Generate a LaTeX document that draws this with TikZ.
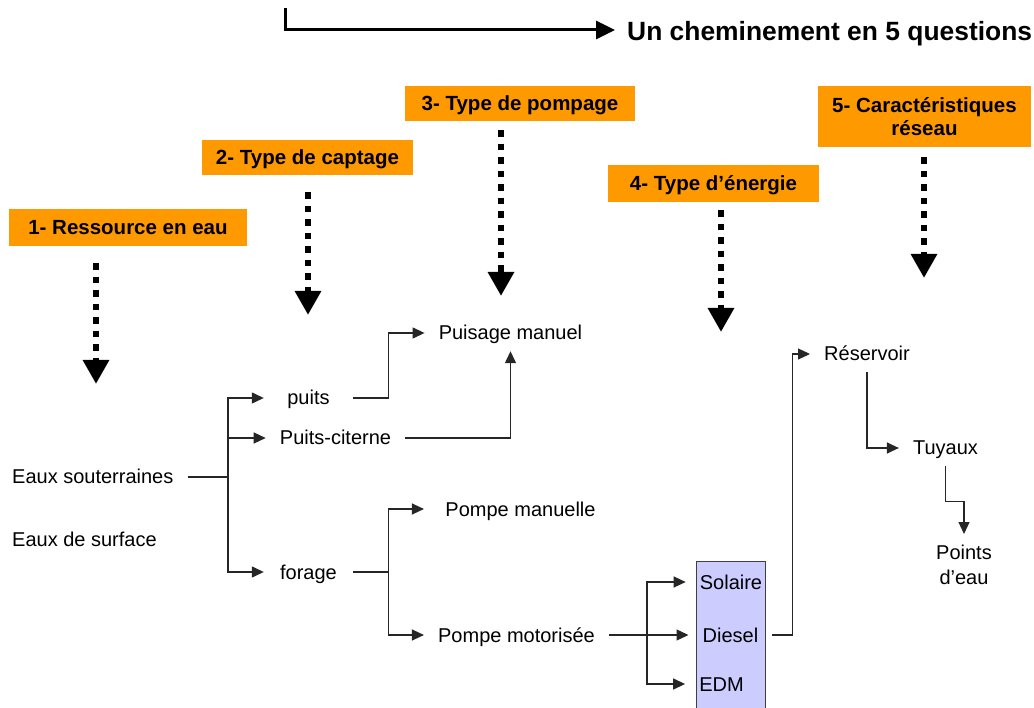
\documentclass[tikz,border=0pt]{standalone}
\usepackage{fontspec}
\setmainfont{Liberation Sans}
\usetikzlibrary{arrows.meta, positioning, calc}

\definecolor{qorange}{HTML}{FF9900}
\definecolor{nrgblue}{HTML}{CCCCFF}

\tikzset{
  qbox/.style={fill=qorange, inner sep=0pt, align=center,
    font=\fontsize{20.5}{23}\selectfont\bfseries},
  qone/.style={qbox, text height=15pt, text depth=0pt},
  qarrow/.style={line width=6.5pt, dash pattern=on 6.5pt off 7pt,
    -{Triangle[length=24pt,width=25pt]}},
  lbl/.style={inner xsep=14pt, inner ysep=7pt, text height=18pt, text depth=4pt,
    font=\fontsize{20}{25}\selectfont},
  wire/.style={line width=1.3pt, draw=black!85},
  wirearrow/.style={wire, -{Triangle[length=12pt,width=11pt]}},
}

\begin{document}
\begin{tikzpicture}[x=1pt, y=-1pt]
    \useasboundingbox (0,0) rectangle (1034,708);

    % title
    \coordinate (top) at (285,8);
    \node[font=\fontsize{26.4}{30}\selectfont\bfseries, inner xsep=12pt, inner ysep=0pt,
      text height=21pt, text depth=0pt, anchor=west] (ttl) at (615,30)
      {Un cheminement en 5 questions};
    \draw[line width=3pt, -{Triangle[length=19pt,width=18pt]}] (top) |- (ttl.west);

    % the five questions
    \node[qone, minimum width=238pt, minimum height=37pt] (q1) at (128,227.5) {1- Ressource en eau};
    \node[qone, minimum width=211pt, minimum height=35pt] (q2) at (307.5,157.5) {2- Type de captage};
    \node[qone, minimum width=230pt, minimum height=35pt] (q3) at (520,103.5) {3- Type de pompage};
    \node[qone, minimum width=211pt, minimum height=37pt] (q4) at (713.5,183.5) {4- Type d’énergie};
    \node[qbox, minimum width=213pt, minimum height=61pt] (q5) at (924.5,116.5) {5- Caractéristiques\\réseau};

    \coordinate (t1) at (96,384);
    \coordinate (t2) at (308,315);
    \coordinate (t3) at (501,296);
    \coordinate (t4) at (721,332);
    \coordinate (t5) at (924,278);
    \draw[qarrow, shorten <=17pt] (q1.south -| t1) -- (t1);
    \draw[qarrow, shorten <=17pt] (q2.south -| t2) -- (t2);
    \draw[qarrow, shorten <=9pt] (q3.south -| t3) -- (t3);
    \draw[qarrow, shorten <=8pt] (q4.south -| t4) -- (t4);
    \draw[qarrow, shorten <=10pt] (q5.south -| t5) -- (t5);

    % energy box
    \node[draw=black!75, fill=nrgblue, line width=1pt, inner sep=0pt,
      minimum width=69pt, minimum height=152pt] (nrg) at (730.5,637) {};

    % answers
    \node[lbl, anchor=west] (eso) at (-2,477) {Eaux souterraines};
    \node[lbl, anchor=west] (esf) at (-2,540) {Eaux de surface};
    \node[lbl, minimum width=89pt] (pts) at (308.5,398) {puits};
    \node[lbl] (pc) at (335.5,438) {Puits-citerne};
    \node[lbl, minimum width=89pt] (frg) at (308.5,572) {forage};
    \node[lbl] (pum) at (510.5,333) {Puisage manuel};
    \node[lbl] (pma) at (520.5,509) {Pompe manuelle};
    \node[lbl] (pmo) at (516.5,635) {Pompe motorisée};
    \node[lbl] (sol) at (731,582) {Solaire};
    \node[lbl] (dsl) at (730.5,635) {Diesel};
    \node[lbl] (edm) at (721.5,684) {EDM};
    \node[lbl] (res) at (867,354) {Réservoir};
    \node[lbl] (tuy) at (945.5,448) {Tuyaux};
    \node[font=\fontsize{20}{25}\selectfont, align=center, inner xsep=0pt, inner ysep=11pt,
      anchor=north] (pe) at (964,534) {Points\\d’eau};

    % links
    \coordinate (j1) at (228,477);
    \coordinate (j4) at (647,635);
    \draw[wire] (eso.east) -- (j1);
    \draw[wirearrow] (j1) |- (pts.west);
    \draw[wirearrow] (j1) |- (pc.west);
    \draw[wirearrow] (j1) |- (frg.west);
    \draw[wirearrow] (pts.east) -- ++(35,0) |- (pum.west);
    \draw[wirearrow] (pc.east) -| (pum.south);
    \draw[wire] (frg.east) -- ++(35,0) coordinate (j3);
    \draw[wirearrow] (j3) |- (pmo.west |- pma.west);
    \draw[wirearrow] (j3) |- (pmo.west);
    \draw[wirearrow] (pmo.east) -- (dsl.west);
    \draw[wirearrow] (j4) |- (sol.west);
    \draw[wirearrow] (j4) |- (edm.west);
    \draw[wirearrow] (dsl.east) -- ++(20,0) |- (res.west);
    \draw[wirearrow] (res.south) |- (tuy.west);
    \draw[wirearrow] (tuy.south) -- ++(0,35) -| (pe.north);
\end{tikzpicture}
\end{document}
